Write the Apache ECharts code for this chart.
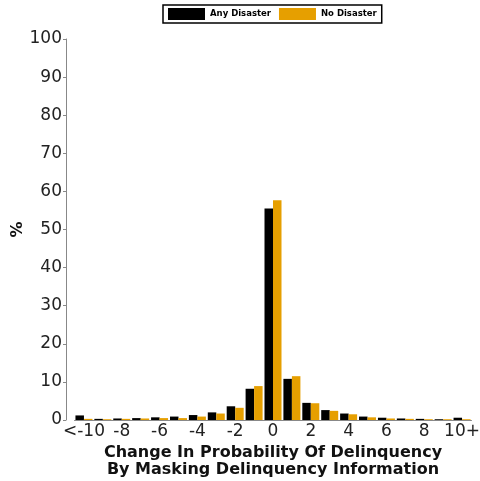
<!DOCTYPE html>
<html>
<head>
<meta charset="utf-8">
<script src="https://cdn.jsdelivr.net/npm/echarts@6/dist/echarts.min.js"></script>
<style>
  html, body { margin: 0; padding: 0; background: #fff; }
  #chart { width: 480px; height: 481px; }
</style>
</head>
<body>
<div id="chart"></div>
<script>
// change buckets, labelled every other one on the axis
const categories = ['<-10', '-9', '-8', '-7', '-6', '-5', '-4', '-3', '-2', '-1',
  '0', '1', '2', '3', '4', '5', '6', '7', '8', '9', '10+'];
const anyDisaster = [1.2, 0.3, 0.4, 0.5, 0.7, 0.9, 1.3, 2.0, 3.6, 8.2,
  55.5, 10.8, 4.5, 2.6, 1.7, 0.9, 0.6, 0.4, 0.3, 0.2, 0.6];
const noDisaster = [0.3, 0.2, 0.3, 0.4, 0.5, 0.5, 0.9, 1.7, 3.2, 8.9,
  57.7, 11.5, 4.4, 2.4, 1.5, 0.7, 0.4, 0.3, 0.2, 0.2, 0.2];
const yTicks = { min: 0, max: 100, interval: 10 };

const chart = echarts.init(document.getElementById('chart'));
const font = 'DejaVu Sans';

const option = {
  animation: false,
  textStyle: { fontFamily: font },
  legend: {
    top: 5,
    left: 163,
    icon: 'rect',
    itemWidth: 37,
    itemHeight: 12,
    itemGap: 8,
    padding: [3, 5],
    borderColor: '#000',
    borderWidth: 1.5,
    textStyle: { fontFamily: font, fontSize: 8.5, fontWeight: 'bold', color: '#000' },
    data: ['Any Disaster', 'No Disaster']
  },
  grid: { left: 74.5, width: 397, top: 39, bottom: 61, outerBoundsMode: 'none' },
  xAxis: {
    type: 'category',
    data: categories,
    axisLine: { lineStyle: { color: '#888', width: 1 } },
    axisTick: { show: false },
    axisLabel: {
      interval: 1,
      fontSize: 17,
      color: '#222',
      margin: 3
    },
    name: 'Change In Probability Of Delinquency\nBy Masking Delinquency Information',
    nameLocation: 'middle',
    nameGap: 24,
    nameMoveOverlap: false,
    nameTextStyle: { fontSize: 16, fontWeight: 'bold', color: '#111', lineHeight: 17, verticalAlign: 'top' }
  },
  yAxis: {
    type: 'value',
    min: yTicks.min,
    max: yTicks.max,
    interval: yTicks.interval,
    offset: 8.5,
    splitLine: { show: false },
    axisLine: { show: true, lineStyle: { color: '#888', width: 1 } },
    axisTick: { show: true, length: 3, lineStyle: { color: '#888' } },
    axisLabel: { fontSize: 17, color: '#222', margin: 4 },
    name: '%',
    nameLocation: 'middle',
    nameGap: 40,
    nameRotate: 90,
    nameMoveOverlap: false,
    nameTextStyle: { fontSize: 16, fontWeight: 'bold', color: '#111' }
  },
  series: [
    {
      name: 'Any Disaster',
      type: 'bar',
      data: anyDisaster,
      barWidth: 8.5,
      barGap: '0%',
      itemStyle: { color: '#000' }
    },
    {
      name: 'No Disaster',
      type: 'bar',
      data: noDisaster,
      barWidth: 8.5,
      barGap: '0%',
      itemStyle: { color: '#E69F00' }
    }
  ]
};

chart.setOption(option);
</script>
</body>
</html>
